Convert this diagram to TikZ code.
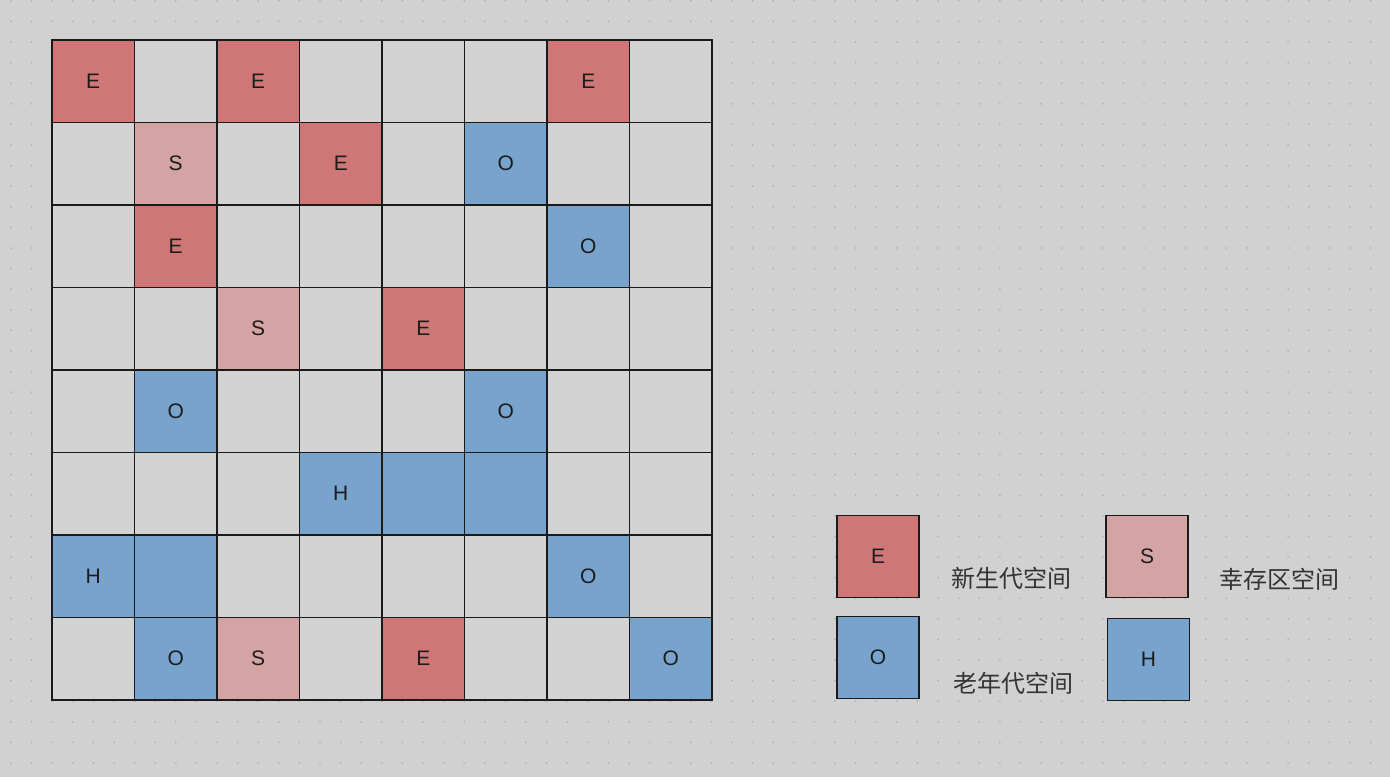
\documentclass[tikz,border=0pt]{standalone}
\usepackage{fontspec}
\setmainfont{Liberation Sans}
\newfontfamily\cjk{Noto Sans CJK SC}
\definecolor{bgc}{HTML}{D1D1D1}
\definecolor{dotc}{HTML}{B2B2B2}
\definecolor{cellc}{HTML}{D3D3D3}
\definecolor{edenc}{HTML}{CF7777}
\definecolor{survc}{HTML}{D4A4A4}
\definecolor{oldc}{HTML}{78A3CC}
\definecolor{edgec}{HTML}{1A1A1A}
\definecolor{txtc}{HTML}{1C1C1C}
\definecolor{labc}{HTML}{333333}
\begin{document}
\begin{tikzpicture}[x=1pt,y=-1pt,
  cellbox/.style={draw=edgec,line width=1.7pt,minimum size=82.5pt,inner sep=0pt,
    font=\fontsize{21}{21}\selectfont,text=txtc},
  legbox/.style={cellbox,minimum size=82pt},
  typeE/.style={fill=edenc},
  typeS/.style={fill=survc},
  typeO/.style={fill=oldc},
  typeH/.style={fill=oldc},
  typeB/.style={fill=oldc},
  typeN/.style={fill=cellc},
  leglabel/.style={font=\cjk\fontsize{24}{24}\selectfont,text=labc,inner sep=0pt}]
\fill[bgc] (0,0) rectangle (1390,777);
\useasboundingbox (0,0) rectangle (1390,777);
\foreach \i in {0,...,67}{
  \foreach \j in {0,...,37}{
    \fill[dotc] (11+20.6*\i,0.8+20.6*\j) circle (1pt);
  }
}
\foreach \r/\row in {
  0/{E/E,N/,E/E,N/,N/,N/,E/E,N/},
  1/{N/,S/S,N/,E/E,N/,O/O,N/,N/},
  2/{N/,E/E,N/,N/,N/,N/,O/O,N/},
  3/{N/,N/,S/S,N/,E/E,N/,N/,N/},
  4/{N/,O/O,N/,N/,N/,O/O,N/,N/},
  5/{N/,N/,N/,H/H,B/,B/,N/,N/},
  6/{H/H,B/,N/,N/,N/,N/,O/O,N/},
  7/{N/,O/O,S/S,N/,E/E,N/,N/,O/O}}{
  \foreach \t/\l [count=\c from 0] in \row {
    \node[cellbox,type\t] (c-\r-\c) at (93.25+82.5*\c,81.25+82.5*\r) {\l};
  }
}
\node[legbox,typeE] (legE) at (878,556.5) {E};
\node[legbox,typeS] (legS) at (1147,556.5) {S};
\node[legbox,typeO] (legO) at (878,657.5) {O};
\node[legbox,typeH] (legH) at (1148.5,659.5) {H};
\node[leglabel] (labE) at (1011,578) {新生代空间};
\node[leglabel] (labS) at (1279,579) {幸存区空间};
\node[leglabel] (labO) at (1013,683) {老年代空间};
\end{tikzpicture}
\end{document}
